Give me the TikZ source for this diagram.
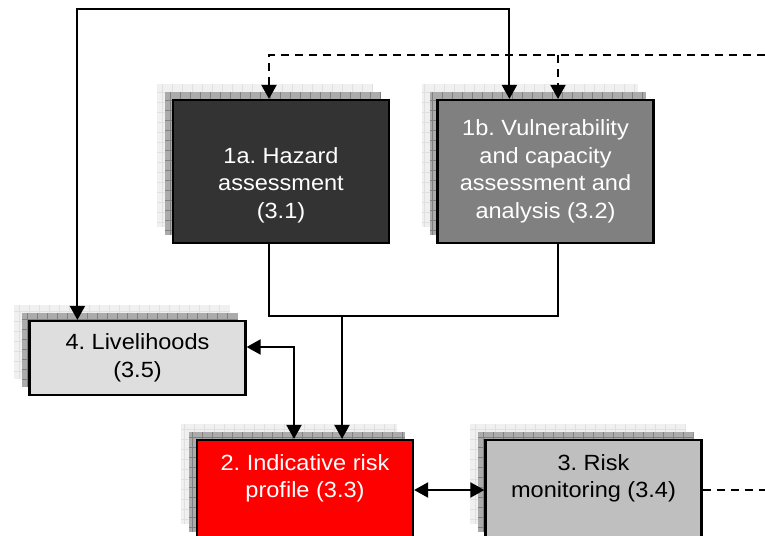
\documentclass[tikz,border=0pt]{standalone}
\usepackage{fontspec}
\setmainfont{Liberation Sans}[FakeStretch=1.07]
\usetikzlibrary{arrows.meta,shadows}

\tikzset{
  stack/.style={
    general shadow={shadow xshift=-16pt, shadow yshift=16pt, draw=none, fill=black!6,
      path picture={\draw[black!12, line width=0.4pt] (path picture bounding box.south west) grid[step=10pt] (path picture bounding box.north east);}},
    general shadow={shadow xshift=-8pt, shadow yshift=8pt, draw=none, fill=black!33,
      path picture={\draw[black!50, line width=0.5pt] (path picture bounding box.south west) grid[step=10pt] (path picture bounding box.north east);}}},
  box/.style={stack, draw=black, line width=2.2pt, minimum width=216pt, align=center,
    inner sep=0pt, font=\fontsize{22}{27.5}\selectfont},
  link/.style={line width=2pt, -{Triangle[length=14pt,width=15pt]}},
  twoway/.style={line width=2pt, {Triangle[length=14pt,width=15pt]}-{Triangle[length=14pt,width=15pt]}},
  dashlink/.style={link, dash pattern=on 8pt off 6pt},
}

\begin{document}
\frenchspacing
\begin{tikzpicture}[x=1pt, y=-1pt]
    \useasboundingbox (0,0) rectangle (765,535);
    \clip (0,0) rectangle (765,535);

    % the five steps
    \node[box, fill=black!80, text=white, minimum height=143pt] (haz) at (281,171.5)
        {\rule{0pt}{16pt}\\1a. Hazard\\assessment\\(3.1)};
    \node[box, fill=black!50, text=white, minimum height=143pt] (vuln) at (545.5,171.5)
        {1b. Vulnerability\\and capacity\\assessment and\\analysis (3.2)};
    \node[box, fill=black!13, minimum height=74pt] (live) at (137.5,358) {4. Livelihoods\\(3.5)};
    \node[box, fill=red, text=white, minimum height=100pt] (risk) at (305,490)
        {2. Indicative risk\\profile (3.3)\\\mbox{}};
    \node[box, fill=black!25, minimum height=100pt] (mon) at (593.5,490)
        {3. Risk\\monitoring (3.4)\\\mbox{}};

    \coordinate (toprail) at (300,9);
    \coordinate (dashin) at (765,55);
    \coordinate (join) at (342,316);
    \coordinate (vulnin) at ([xshift=12.5pt]vuln.north);
    \coordinate (hazout) at ([xshift=-12pt]haz.south);
    \coordinate (vulnout) at ([xshift=12.5pt]vuln.south);

    \draw[twoway] ([xshift=49pt]live.north west) |- (toprail) -| ([xshift=73pt]vuln.north west);
    \draw[dashlink] (dashin) -| ([xshift=-12pt]haz.north);
    \draw[dashlink] (vulnin |- dashin) -- (vulnin);

    \draw[line width=2pt] (hazout) |- (join) -| (vulnout);
    \draw[link] (join) -- (join |- risk.north);

    \draw[twoway] ([yshift=11pt]live.east) -| ([xshift=-11pt]risk.north);
    \draw[twoway] (risk.east) -- (mon.west);
    \draw[line width=2pt, dash pattern=on 8pt off 6pt] (mon.east) -- (mon.east -| dashin);
\end{tikzpicture}
\end{document}
